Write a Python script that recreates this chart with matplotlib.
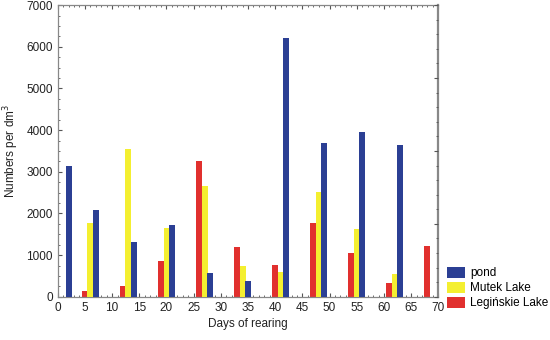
import matplotlib
matplotlib.use("Agg")
import matplotlib.pyplot as plt
from matplotlib.ticker import MultipleLocator
import numpy as np

plt.rcParams['font.family'] = ['Liberation Sans', 'DejaVu Sans']

# Data: group days (yellow bar position), values per series
group_days = [1, 6, 13, 20, 27, 34, 41, 48, 55, 62, 69]
pond = [3150, 2090, 1320, 1720, 580, 380, 6200, 3690, 3950, 3650, 0]
mutek = [0, 1780, 3550, 1660, 2670, 740, 600, 2510, 1620, 540, 0]
leginskie = [0, 150, 270, 870, 3260, 1200, 760, 1780, 1050, 330, 1220]

labels = ["pond", "Mutek Lake", "Legińskie Lake"]
colors = {"pond": "#2b3f94", "Mutek Lake": "#f4ef30", "Legińskie Lake": "#e1302e"}

fig = plt.figure(figsize=(5.5, 3.4), dpi=100)
ax = fig.add_axes([0.105, 0.127, 0.692, 0.858])

x = np.array(group_days, dtype=float)
w = 1.1
hl = ax.bar(x - 1, leginskie, width=w, color=colors["Legińskie Lake"], zorder=2)
hm = ax.bar(x, mutek, width=w, color=colors["Mutek Lake"], zorder=3)
hp = ax.bar(x + 1, pond, width=w, color=colors["pond"], zorder=4)

ax.set_xlim(0, 70)
ax.set_ylim(0, 7000)
ax.xaxis.set_major_locator(MultipleLocator(5))
ax.xaxis.set_minor_locator(MultipleLocator(1))
ax.yaxis.set_major_locator(MultipleLocator(1000))
ax.yaxis.set_minor_locator(MultipleLocator(250))
ax.tick_params(axis="both", which="both", direction="in", top=True, right=False,
               colors="#555555", labelcolor="#222222", labelsize=8.5)
ax.tick_params(which="major", length=3)
ax.tick_params(which="minor", length=1.5)
for s in ax.spines.values():
    s.set_color("#888888")
    s.set_linewidth(0.9)
ax.spines["right"].set_linewidth(1.6)

ax2 = ax.twinx()
ax2.set_ylim(0, 7000)
ax2.yaxis.set_major_locator(MultipleLocator(1750))
ax2.yaxis.set_minor_locator(MultipleLocator(350))
ax2.tick_params(axis="y", which="both", direction="in", labelright=False, colors="#555555")
ax2.tick_params(which="major", length=3)
ax2.tick_params(which="minor", length=1.5)
for s in ax2.spines.values():
    s.set_visible(False)

ax.set_xlabel("Days of rearing", fontsize=8.5, color="#222222", labelpad=3)
ax.set_ylabel("Numbers per dm$^3$", fontsize=8.5, color="#222222", labelpad=4)

fig.legend([hp, hm, hl], labels, loc="lower left", bbox_to_anchor=(0.812, 0.09),
           frameon=False, fontsize=8.5, handlelength=1.6, handleheight=1.1,
           handletextpad=0.4, labelspacing=0.2, borderaxespad=0, borderpad=0)

fig.savefig("out.png", dpi=100)
